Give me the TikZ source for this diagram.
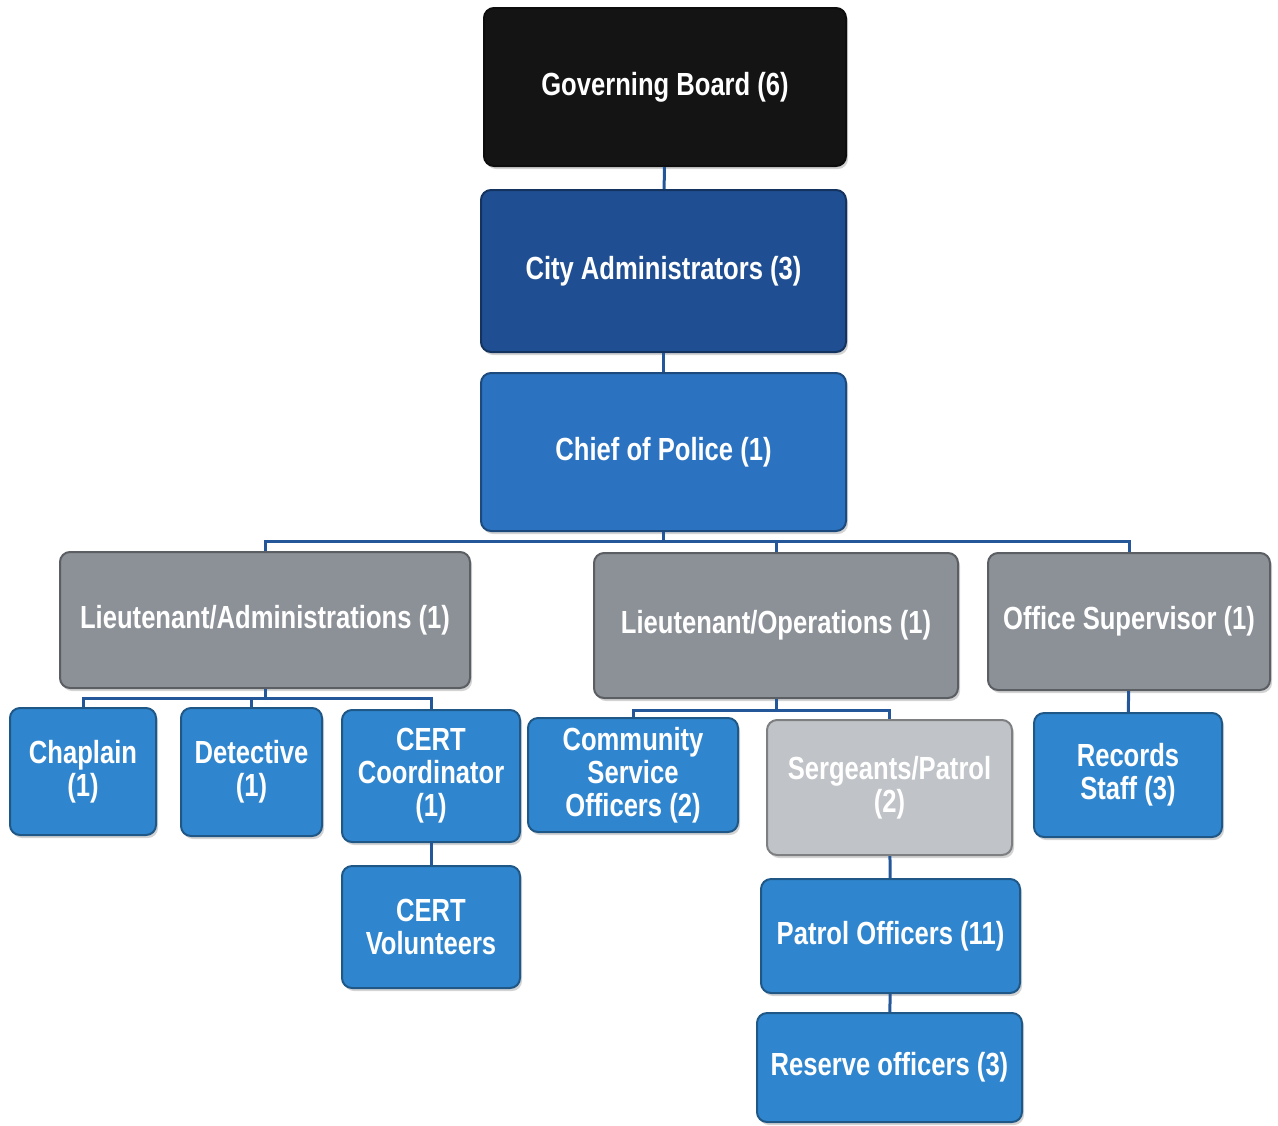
\documentclass[tikz,border=0pt]{standalone}
\usepackage{fontspec}
\setmainfont{Liberation Sans}[FakeStretch=0.8]
\usetikzlibrary{shadows}
\definecolor{boardblack}{HTML}{141414}
\definecolor{citynavy}{HTML}{1F4F92}
\definecolor{chiefblue}{HTML}{2B72C0}
\definecolor{unitblue}{HTML}{2F86CF}
\definecolor{ltgray}{HTML}{8C9198}
\definecolor{sgtgray}{HTML}{C0C3C7}
\definecolor{linkblue}{HTML}{24579A}

\begin{document}
\begin{tikzpicture}[x=0.5pt,y=-0.5pt,
    box/.style={rounded corners=5pt,draw=#1!65!black,fill=#1,line width=1pt,
        text=white,align=center,font=\bfseries\fontsize{16}{16.5}\selectfont,
        drop shadow={opacity=0.35,shadow xshift=1pt,shadow yshift=-1.5pt}},
    sz/.style 2 args={minimum width=#1*0.5pt,minimum height=#2*0.5pt,inner sep=0pt},
    link/.style={draw=linkblue,line width=1.5pt}]
    \useasboundingbox (0,0) rectangle (1278,1125);

    \node[box=boardblack,sz={362}{158}] (board) at (665,87) {Governing Board (6)};
    \node[box=citynavy,sz={365}{162}] (city) at (663.5,271) {City Administrators (3)};
    \node[box=chiefblue,sz={365}{158}] (chief) at (663.5,452) {Chief of Police (1)};

    \node[box=ltgray,sz={410}{136}] (ltadmin) at (265,620) {Lieutenant/Administrations (1)};
    \node[box=ltgray,sz={364}{145}] (ltops) at (776,625.5) {Lieutenant/Operations (1)};
    \node[box=ltgray,sz={282}{137}] (officesup) at (1129,621.5) {Office Supervisor (1)};

    \node[box=unitblue,sz={146}{127}] (chaplain) at (83,771.5) {Chaplain\\(1)};
    \node[box=unitblue,sz={141}{128}] (detective) at (251.5,772) {Detective\\(1)};
    \node[box=unitblue,sz={178}{132}] (certcoord) at (431,776) {CERT\\Coordinator\\(1)};
    \node[box=unitblue,sz={178}{122}] (certvol) at (431,927) {CERT\\Volunteers};

    \node[box=unitblue,sz={210}{114}] (cso) at (633,775) {Community\\Service\\Officers (2)};
    \node[box=sgtgray,sz={245}{135}] (sergeants) at (889.5,787.5) {Sergeants/Patrol\\(2)};
    \node[box=unitblue,sz={259}{114}] (patrol) at (890.5,936) {Patrol Officers (11)};
    \node[box=unitblue,sz={265}{109}] (reserve) at (889.5,1067.5) {Reserve officers (3)};

    \node[box=unitblue,sz={188}{124}] (records) at (1128,775) {Records\\Staff (3)};

    % chain of command
    \draw[link] (board) -- (city);
    \draw[link] (city) -- (chief);

    % lieutenants and office
    \coordinate (mainbus) at (663.5,541);
    \draw[link] (chief.south) -- (mainbus);
    \draw[link] (ltadmin.north) |- (mainbus) -| (officesup.north);
    \draw[link] (ltops.north) -- (ltops.north |- mainbus);

    % administrations
    \coordinate (adminbus) at (265,698);
    \draw[link] (ltadmin.south) -- (adminbus);
    \draw[link] (chaplain.north) |- (adminbus) -| (certcoord.north);
    \draw[link] (detective.north) -- (detective.north |- adminbus);
    \draw[link] (certcoord) -- (certvol);

    % operations
    \coordinate (opsbus) at (776,710);
    \draw[link] (ltops.south) -- (opsbus);
    \draw[link] (cso.north) |- (opsbus) -| (sergeants.north);
    \draw[link] (sergeants) -- (patrol);
    \draw[link] (patrol) -- (reserve);

    % office
    \draw[link] (officesup) -- (records);
\end{tikzpicture}
\end{document}
